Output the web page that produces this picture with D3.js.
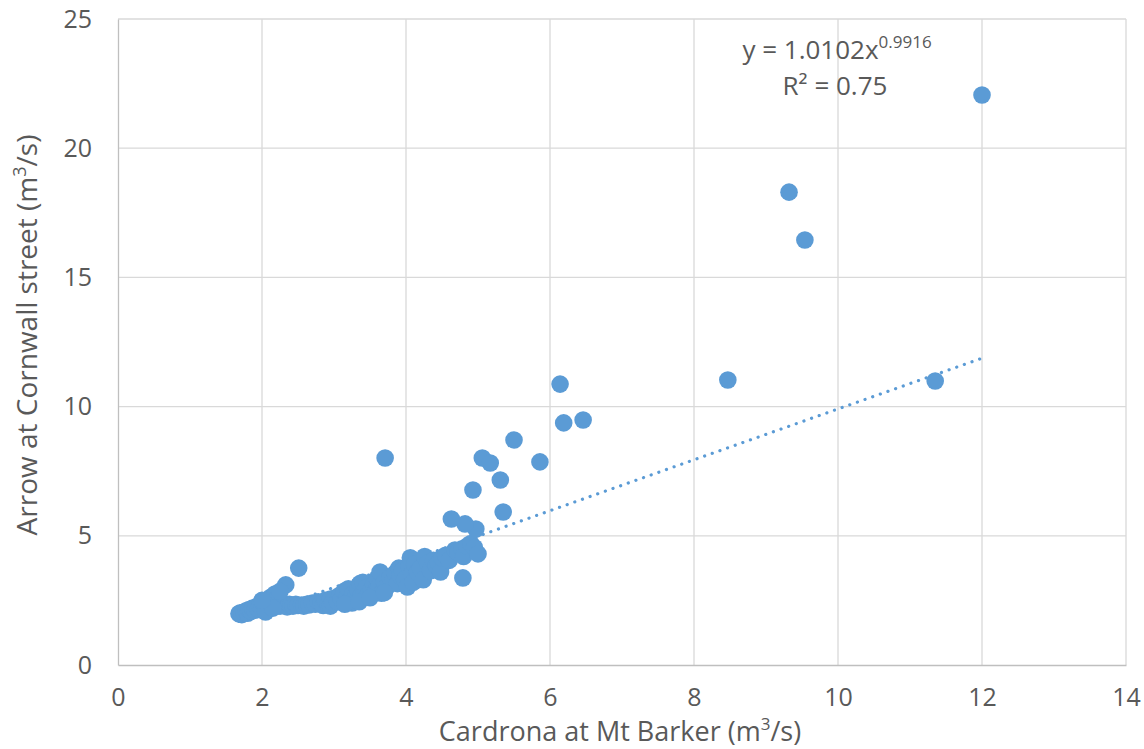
<!DOCTYPE html>
<html>
<head>
<meta charset="utf-8">
<script src="https://cdn.jsdelivr.net/npm/d3@7"></script>
<style>
  body { margin: 0; background: #fff; }
  text { font-family: "Open Sans", "Liberation Sans", sans-serif; fill: #595959; }
</style>
</head>
<body>
<svg></svg>
<script>
// flow values (m3/s)
let cardrona = [
  1.68, 1.70, 1.72, 1.75, 1.78, 1.80, 1.82, 1.85, 1.87, 1.90, 1.92, 1.95, 1.97, 2.00, 2.02, 2.05,
  2.08, 2.10, 2.12, 2.15, 2.18, 2.20, 2.22, 2.25, 2.28, 2.30, 2.33, 2.35, 2.38, 2.40, 2.43, 2.47,
  2.50, 2.51, 2.55, 2.58, 2.62, 2.65, 2.70, 2.74, 2.78, 2.82, 2.85, 2.88, 2.92, 2.95, 2.95, 2.98,
  3.02, 3.05, 3.08, 3.10, 3.14, 3.18, 3.20, 3.22, 3.25, 3.26, 3.30, 3.33, 3.36, 3.38, 3.40, 3.42,
  3.45, 3.48, 3.52, 3.55, 3.58, 3.60, 3.62, 3.64, 3.66, 3.70, 3.71, 3.74, 3.78, 3.82, 3.85, 3.88,
  3.90, 3.92, 3.95, 3.98, 4.02, 4.04, 4.06, 4.08, 4.10, 4.12, 4.16, 4.20, 4.24, 4.26, 4.30, 4.34,
  4.38, 4.42, 4.45, 4.48, 4.50, 4.55, 4.60, 4.68, 4.72, 4.78, 4.79, 4.80, 4.85, 4.90, 4.95, 5.00,
  3.15, 3.35, 3.50, 3.70, 2.05, 2.15, 2.00, 2.25,
  4.97, 4.82, 4.63, 5.35, 4.93, 5.31, 5.06, 5.17, 5.86, 5.50, 6.14, 6.19, 6.46, 8.47, 11.35, 9.54,
  9.32, 12.0
]
let arrow = [
  1.98, 2.02, 1.95, 2.05, 2.10, 2.00, 2.15, 2.08, 2.20, 2.12, 2.25, 2.18, 2.32, 2.22, 2.40, 2.30,
  2.50, 2.35, 2.62, 2.45, 2.75, 2.55, 2.35, 2.28, 2.40, 2.30, 3.10, 2.25, 2.35, 2.30, 2.28, 2.35,
  2.30, 3.75, 2.32, 2.28, 2.35, 2.32, 2.40, 2.35, 2.45, 2.38, 2.30, 2.50, 2.35, 2.55, 2.28, 2.42,
  2.60, 2.45, 2.70, 2.55, 2.85, 2.60, 2.95, 2.50, 2.40, 2.75, 2.65, 2.90, 3.15, 2.70, 3.20, 2.80,
  3.00, 2.75, 2.90, 3.10, 2.85, 3.35, 3.00, 3.60, 2.78, 3.20, 8.01, 3.05, 3.40, 3.25, 3.55, 3.15,
  3.75, 3.45, 3.65, 3.30, 3.02, 3.80, 4.15, 3.50, 3.20, 3.90, 3.60, 3.75, 3.30, 4.20, 3.95, 3.65,
  4.05, 3.85, 3.95, 3.60, 4.15, 4.25, 4.05, 4.45, 4.35, 4.50, 3.37, 4.20, 4.60, 4.70, 4.55, 4.30,
  2.35, 2.45, 2.60, 2.80, 2.05, 2.20, 2.50, 2.85,
  5.26, 5.46, 5.65, 5.92, 6.77, 7.16, 8.01, 7.82, 7.86, 8.71, 10.87, 9.37, 9.48, 11.03, 10.99, 16.45,
  18.30, 22.06
]
let xTicks = [0, 2, 4, 6, 8, 10, 12, 14]
let yTicks = [0, 5, 10, 15, 20, 25]
let fitA = 1.0102
let fitB = 0.9916

let width = 1144
let height = 749
let padLeft = 118, padRight = 1126, padTop = 19, padBottom = 665

let svg = d3.select('svg')
    .attr('width', width)
    .attr('height', height)

let xScale = d3.scaleLinear().domain([0, 14]).range([padLeft, padRight])
let yScale = d3.scaleLinear().domain([0, 25]).range([padBottom, padTop])

// gridlines
svg.append('g')
   .selectAll('line')
   .data(xTicks.slice(1))
   .enter()
   .append('line')
   .attr('x1', (d) => xScale(d)).attr('x2', (d) => xScale(d))
   .attr('y1', padTop).attr('y2', padBottom)
   .attr('stroke', '#d9d9d9').attr('stroke-width', 1.3)

svg.append('g')
   .selectAll('line')
   .data(yTicks.slice(1))
   .enter()
   .append('line')
   .attr('x1', padLeft).attr('x2', padRight)
   .attr('y1', (d) => yScale(d)).attr('y2', (d) => yScale(d))
   .attr('stroke', '#d9d9d9').attr('stroke-width', 1.3)

// axes
let xAxis = d3.axisBottom(xScale).tickValues(xTicks).tickSize(0).tickPadding(23)
let gx = svg.append('g')
   .attr('transform', 'translate(0,' + padBottom + ')')
   .call(xAxis)
gx.select('.domain').attr('stroke', '#bfbfbf').attr('stroke-width', 1.3)
gx.selectAll('text').attr('font-size', 25).style('fill', '#595959')

let yAxis = d3.axisLeft(yScale).tickValues(yTicks).tickSize(0).tickPadding(26)
let gy = svg.append('g')
   .attr('transform', 'translate(' + padLeft + ',0)')
   .call(yAxis)
gy.select('.domain').attr('stroke', '#bfbfbf').attr('stroke-width', 1.3)
gy.selectAll('text').attr('font-size', 25).style('fill', '#595959')

// trendline (power fit)
let xMin = d3.min(cardrona), xMax = d3.max(cardrona)
let fitPts = d3.range(0, 41).map((i) => {
    let x = xMin + (xMax - xMin) * i / 40
    return [x, fitA * Math.pow(x, fitB)]
})
svg.append('path')
   .datum(fitPts)
   .attr('d', d3.line().x((d) => xScale(d[0])).y((d) => yScale(d[1])))
   .attr('fill', 'none')
   .attr('stroke', '#5b9bd5')
   .attr('stroke-width', 3.2)
   .attr('stroke-linecap', 'round')
   .attr('stroke-dasharray', '0.1,8')

// points
svg.append('g')
   .selectAll('circle')
   .data(cardrona)
   .enter()
   .append('circle')
   .attr('cx', (d) => xScale(d))
   .attr('cy', (d, i) => yScale(arrow[i]))
   .attr('r', 8.8)
   .attr('fill', '#5b9bd5')

// equation label
let eq = svg.append('text')
   .attr('x', 837).attr('y', 59)
   .attr('text-anchor', 'middle')
   .attr('font-size', 26)
eq.append('tspan').text('y = 1.0102x')
eq.append('tspan').attr('font-size', 17).attr('dy', -11).text('0.9916')

let r2 = svg.append('text')
   .attr('x', 835).attr('y', 95)
   .attr('text-anchor', 'middle')
   .attr('font-size', 26)
r2.append('tspan').text('R² = 0.75')

// axis titles
let xt = svg.append('text')
   .attr('x', 620).attr('y', 741)
   .attr('text-anchor', 'middle')
   .attr('font-size', 27)
xt.append('tspan').text('Cardrona at Mt Barker (m')
xt.append('tspan').attr('font-size', 17).attr('dy', -11).text('3')
xt.append('tspan').attr('dy', 11).text('/s)')

let yt = svg.append('text')
   .attr('transform', 'translate(37,335) rotate(-90)')
   .attr('text-anchor', 'middle')
   .attr('font-size', 28)
yt.append('tspan').text('Arrow at Cornwall street (m')
yt.append('tspan').attr('font-size', 18).attr('dy', -11).text('3')
yt.append('tspan').attr('dy', 11).text('/s)')
</script>
</body>
</html>
